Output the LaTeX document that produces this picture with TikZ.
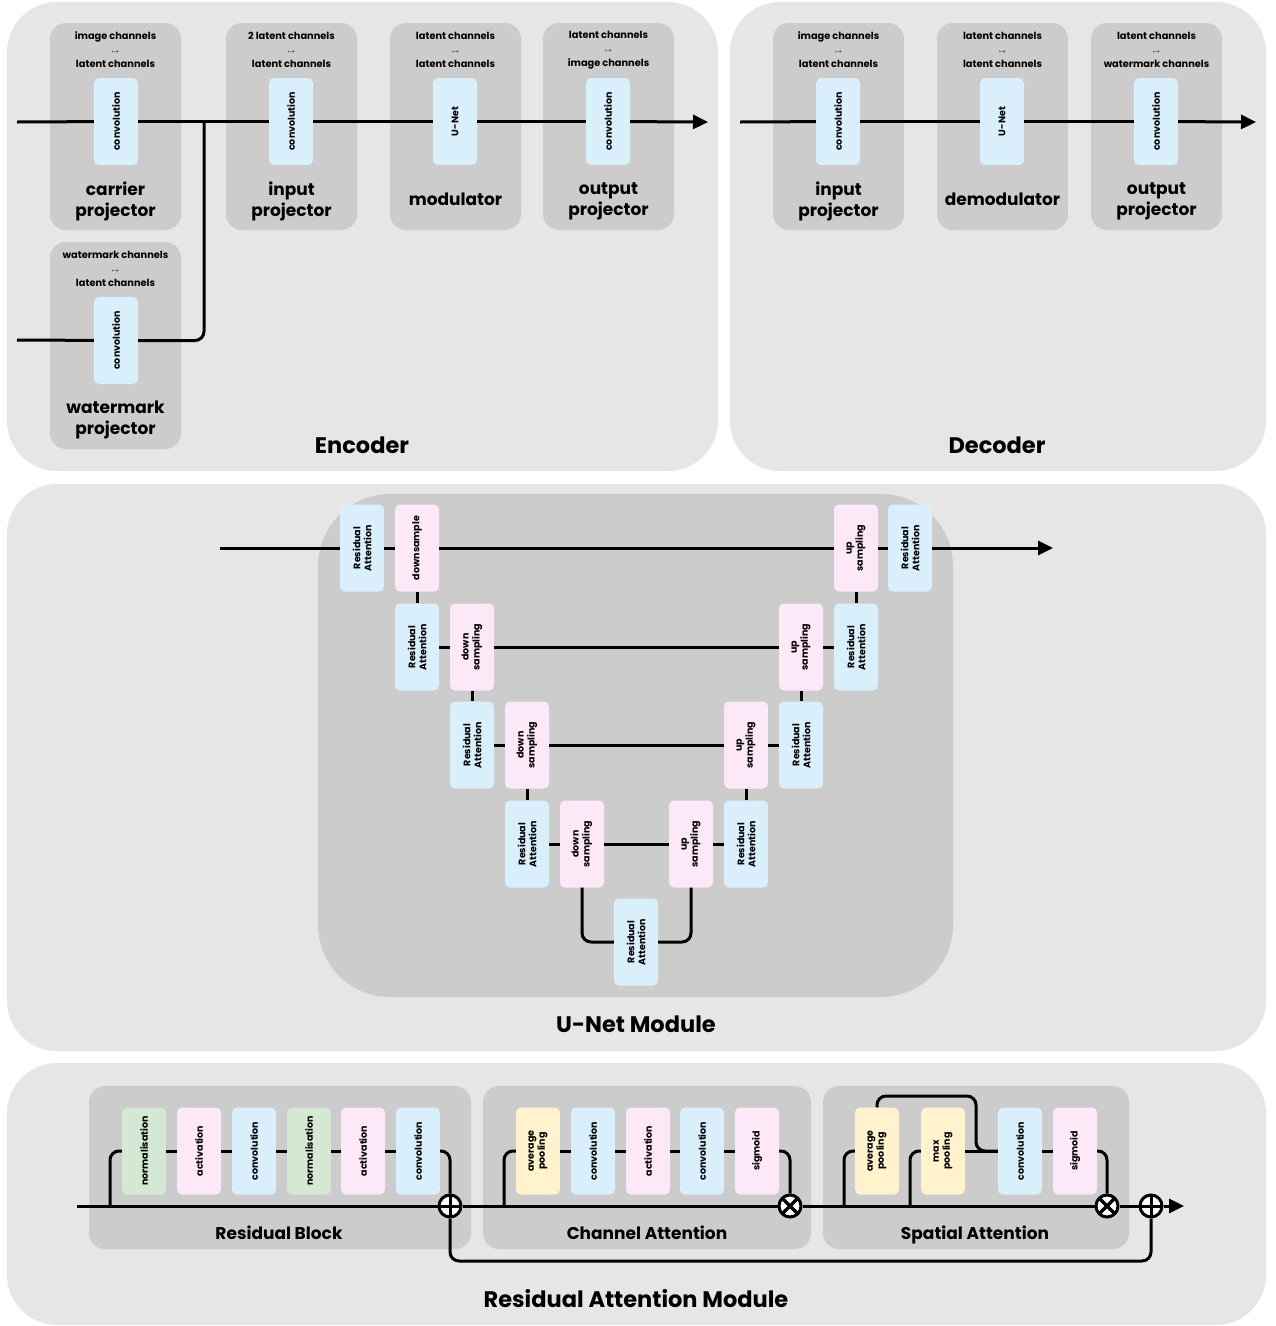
\documentclass[tikz,border=0pt]{standalone}
\usepackage{fontspec}
\setmainfont{Poppins}
\usetikzlibrary{arrows.meta,positioning}

\definecolor{panelgray}{HTML}{E6E6E6}
\definecolor{groupgray}{HTML}{CCCCCC}
\definecolor{blockblue}{HTML}{DAEFFC}
\definecolor{blockpink}{HTML}{FDE8F8}
\definecolor{blockgreen}{HTML}{D5E8D4}
\definecolor{blockyellow}{HTML}{FFF2CC}

\tikzset{
  panel/.style={fill=panelgray, rounded corners=50pt, inner sep=0pt},
  group/.style={fill=groupgray, rounded corners=16pt, inner sep=0pt},
  block/.style={rotate=90, rounded corners=5pt, minimum width=87pt, minimum height=44pt,
    inner sep=0pt, align=center, font=\bfseries\fontsize{9.5}{11}\selectfont},
  convblk/.style={block, fill=blockblue},
  actblk/.style={block, fill=blockpink},
  normblk/.style={block, fill=blockgreen},
  poolblk/.style={block, fill=blockyellow},
  io/.style={align=center, font=\bfseries\fontsize{9.8}{14}\selectfont},
  groupname/.style={align=center, font=\bfseries\fontsize{17}{21}\selectfont},
  caption/.style={font=\bfseries\fontsize{22.5}{26}\selectfont},
  wire/.style={line width=3pt, rounded corners=9pt},
  arrow/.style={wire, -{Triangle[length=15pt,width=14pt]}},
  sum/.style={circle, draw, line width=3pt, fill=white, minimum size=22pt, inner sep=0pt},
  plus/.style={sum, path picture={
    \draw[line width=3pt] (path picture bounding box.north) -- (path picture bounding box.south)
      (path picture bounding box.west) -- (path picture bounding box.east);}},
  times/.style={sum, path picture={
    \draw[line width=3.4pt] (path picture bounding box.north west) -- (path picture bounding box.south east)
      (path picture bounding box.north east) -- (path picture bounding box.south west);}},
}
\newcommand{\maps}{{\fontsize{6.5}{6.5}\selectfont$\mapsto$}}

\begin{document}
\begin{tikzpicture}[x=1pt,y=-1pt]
  \useasboundingbox (0,0) rectangle (1276,1326);

  % panels
  \node[panel, minimum width=711pt, minimum height=469pt] (encoder) at (362.5,236.5) {};
  \node[panel, minimum width=536pt, minimum height=469pt] (decoder) at (998,236.5) {};
  \node[panel, minimum width=1259pt, minimum height=567pt] (unetpanel) at (636.5,767.5) {};
  \node[panel, minimum width=1259pt, minimum height=262pt] (rampanel) at (636.5,1194) {};

  % ---------------- Encoder ----------------
  \node[group, minimum width=131pt, minimum height=207pt] (carrier) at (115.5,126.5) {};
  \node[group, minimum width=131pt, minimum height=207pt] (einput) at (291.5,126.5) {};
  \node[group, minimum width=131pt, minimum height=207pt] (modulator) at (455.5,126.5) {};
  \node[group, minimum width=131pt, minimum height=207pt] (eoutput) at (608.5,126.5) {};
  \node[group, minimum width=131pt, minimum height=207pt] (watermark) at (115.5,345.5) {};

  \node[io] (carrierio) at (115.5,50) {image channels\\\maps\\latent channels};
  \node[io] (einputio) at (291.5,50) {2 latent channels\\\maps\\latent channels};
  \node[io] (modulatorio) at (455.5,50) {latent channels\\\maps\\latent channels};
  \node[io] (eoutputio) at (608.5,50) {latent channels\\\maps\\image channels};
  \node[io] (watermarkio) at (115.5,269) {watermark channels\\\maps\\latent channels};

  \node[convblk] (cconv) at (116,121.5) {convolution};
  \node[convblk] (iconv) at (291,121.5) {convolution};
  \node[convblk] (unet1) at (455,121.5) {U-Net};
  \node[convblk] (oconv) at (608,121.5) {convolution};
  \node[convblk] (wconv) at (116,340.5) {convolution};

  \node[groupname] (carriername) at (115.5,201) {carrier\\projector};
  \node[groupname] (einputname) at (291.5,201) {input\\projector};
  \node[groupname] (modulatorname) at (455.5,199) {modulator};
  \node[groupname] (eoutputname) at (608.5,201) {output\\projector};
  \node[groupname] (watermarkname) at (115.5,420) {watermark\\projector};

  \coordinate (ein) at (17,122);
  \coordinate (win) at (17,340);
  \coordinate (join) at (204,122);
  \coordinate (eout) at (708,122);
  \draw[wire] (ein) -- (cconv);
  \draw[wire] (cconv) -- (iconv);
  \draw[wire] (iconv) -- (unet1);
  \draw[wire] (unet1) -- (oconv);
  \draw[arrow] (oconv) -- (eout);
  \draw[wire] (win) -- (wconv);
  \draw[wire] (wconv) -| (join);

  \node[caption] (encodername) at (362,445) {Encoder};

  % ---------------- Decoder ----------------
  \node[group, minimum width=131pt, minimum height=207pt] (dinput) at (838.5,126.5) {};
  \node[group, minimum width=131pt, minimum height=207pt] (demodulator) at (1002.5,126.5) {};
  \node[group, minimum width=131pt, minimum height=207pt] (doutput) at (1156.5,126.5) {};

  \node[io] (dinputio) at (838.5,50) {image channels\\\maps\\latent channels};
  \node[io] (demodulatorio) at (1002.5,50) {latent channels\\\maps\\latent channels};
  \node[io] (doutputio) at (1156.5,50) {latent channels\\\maps\\watermark channels};

  \node[convblk] (dconv1) at (838,121.5) {convolution};
  \node[convblk] (unet2) at (1002,121.5) {U-Net};
  \node[convblk] (dconv2) at (1156,121.5) {convolution};

  \node[groupname] (dinputname) at (838.5,201) {input\\projector};
  \node[groupname] (demodulatorname) at (1002.5,199) {demodulator};
  \node[groupname] (doutputname) at (1156.5,201) {output\\projector};

  \coordinate (din) at (740,122);
  \coordinate (dout) at (1256,122);
  \draw[wire] (din) -- (dconv1);
  \draw[wire] (dconv1) -- (unet2);
  \draw[wire] (unet2) -- (dconv2);
  \draw[arrow] (dconv2) -- (dout);

  \node[caption] (decodername) at (997,445) {Decoder};

  % ---------------- U-Net ----------------
  \node[fill=groupgray, rounded corners=72pt, minimum width=635pt, minimum height=503pt, inner sep=0pt] (unetbg) at (635.5,745.5) {};

  \node[convblk] (ra1) at (362,548) {Residual\\Attention};
  \node[actblk] (ds1) at (417,548) {downsample};
  \node[actblk] (us1) at (856,548) {up\\sampling};
  \node[convblk] (rau1) at (910,548) {Residual\\Attention};

  \node[convblk] (ra2) at (417,647) {Residual\\Attention};
  \node[actblk] (ds2) at (472,647) {down\\sampling};
  \node[actblk] (us2) at (801,647) {up\\sampling};
  \node[convblk] (rau2) at (856,647) {Residual\\Attention};

  \node[convblk] (ra3) at (472,745) {Residual\\Attention};
  \node[actblk] (ds3) at (527,745) {down\\sampling};
  \node[actblk] (us3) at (746,745) {up\\sampling};
  \node[convblk] (rau3) at (801,745) {Residual\\Attention};

  \node[convblk] (ra4) at (527,844) {Residual\\Attention};
  \node[actblk] (ds4) at (582,844) {down\\sampling};
  \node[actblk] (us4) at (691,844) {up\\sampling};
  \node[convblk] (rau4) at (746,844) {Residual\\Attention};

  \node[convblk] (rab) at (636,942) {Residual\\Attention};

  \coordinate (uin) at (220,548);
  \coordinate (uout) at (1053,548);
  \draw[wire] (uin) -- (ra1);
  \draw[wire] (ra1) -- (ds1);
  \draw[wire] (ds1) -- (us1);
  \draw[wire] (us1) -- (rau1);
  \draw[arrow] (rau1) -- (uout);

  \draw[wire] (ds1) -- (ra2);
  \draw[wire] (ra2) -- (ds2);
  \draw[wire] (ds2) -- (us2);
  \draw[wire] (us2) -- (rau2);
  \draw[wire] (rau2) -- (us1);

  \draw[wire] (ds2) -- (ra3);
  \draw[wire] (ra3) -- (ds3);
  \draw[wire] (ds3) -- (us3);
  \draw[wire] (us3) -- (rau3);
  \draw[wire] (rau3) -- (us2);

  \draw[wire] (ds3) -- (ra4);
  \draw[wire] (ra4) -- (ds4);
  \draw[wire] (ds4) -- (us4);
  \draw[wire] (us4) -- (rau4);
  \draw[wire] (rau4) -- (us3);

  \draw[wire] (ds4) |- (rab);
  \draw[wire] (rab) -| (us4);

  \node[caption] (unetname) at (636,1024) {U-Net Module};

  % ---------------- Residual Attention ----------------
  \node[group, minimum width=382pt, minimum height=163pt] (resblock) at (280,1167.5) {};
  \node[group, minimum width=328pt, minimum height=163pt] (chanatt) at (647,1167.5) {};
  \node[group, minimum width=306pt, minimum height=163pt] (spatatt) at (976,1167.5) {};

  \node[normblk] (norm1) at (144,1151) {normalisation};
  \node[actblk] (act1) at (199,1151) {activation};
  \node[convblk] (conv1) at (254,1151) {convolution};
  \node[normblk] (norm2) at (309,1151) {normalisation};
  \node[actblk] (act2) at (363,1151) {activation};
  \node[convblk] (conv2) at (418,1151) {convolution};

  \node[poolblk] (avg1) at (538,1151) {average\\pooling};
  \node[convblk] (conv3) at (593,1151) {convolution};
  \node[actblk] (act3) at (648,1151) {activation};
  \node[convblk] (conv4) at (702,1151) {convolution};
  \node[actblk] (sig1) at (757,1151) {sigmoid};

  \node[poolblk] (avg2) at (877,1151) {average\\pooling};
  \node[poolblk] (max2) at (943,1151) {max\\pooling};
  \node[convblk] (conv5) at (1020,1151) {convolution};
  \node[actblk] (sig2) at (1075,1151) {sigmoid};

  \node[plus] (add1) at (450,1206) {};
  \node[times] (mul1) at (790,1206) {};
  \node[times] (mul2) at (1107,1206) {};
  \node[plus] (add2) at (1151,1206) {};

  \coordinate (rin) at (77,1206);
  \coordinate (rb) at (110,1206);
  \coordinate (ca) at (504,1206);
  \coordinate (sa1) at (844,1206);
  \coordinate (sa2) at (910,1206);
  \coordinate (satop) at (976,1096);
  \coordinate (skip) at (1151,1261);
  \coordinate (rout) at (1184,1206);

  % main line
  \draw[wire] (rin) -- (add1);
  \draw[wire] (add1) -- (mul1);
  \draw[wire] (mul1) -- (mul2);
  \draw[wire] (mul2) -- (add2);
  \draw[arrow] (add2) -- (rout);

  % residual block
  \draw[wire] (rb) |- (norm1);
  \draw[wire] (norm1) -- (act1);
  \draw[wire] (act1) -- (conv1);
  \draw[wire] (conv1) -- (norm2);
  \draw[wire] (norm2) -- (act2);
  \draw[wire] (act2) -- (conv2);
  \draw[wire] (conv2) -| (add1);
  \draw[wire] (add1) |- (skip) -- (add2);

  % channel attention
  \draw[wire] (ca) |- (avg1);
  \draw[wire] (avg1) -- (conv3);
  \draw[wire] (conv3) -- (act3);
  \draw[wire] (act3) -- (conv4);
  \draw[wire] (conv4) -- (sig1);
  \draw[wire] (sig1) -| (mul1);

  % spatial attention
  \draw[wire] (sa1) |- (avg2);
  \draw[wire] (sa2) |- (max2);
  \draw[wire] (avg2) |- (satop) |- (conv5);
  \draw[wire] (max2) -- (conv5);
  \draw[wire] (conv5) -- (sig2);
  \draw[wire] (sig2) -| (mul2);

  \node[groupname, anchor=base] (resblockname) at (279,1239) {Residual Block};
  \node[groupname, anchor=base] (chanattname) at (647,1239) {Channel Attention};
  \node[groupname, anchor=base] (spatattname) at (975,1239) {Spatial Attention};

  \node[caption] (ramname) at (636,1299) {Residual Attention Module};
\end{tikzpicture}
\end{document}
